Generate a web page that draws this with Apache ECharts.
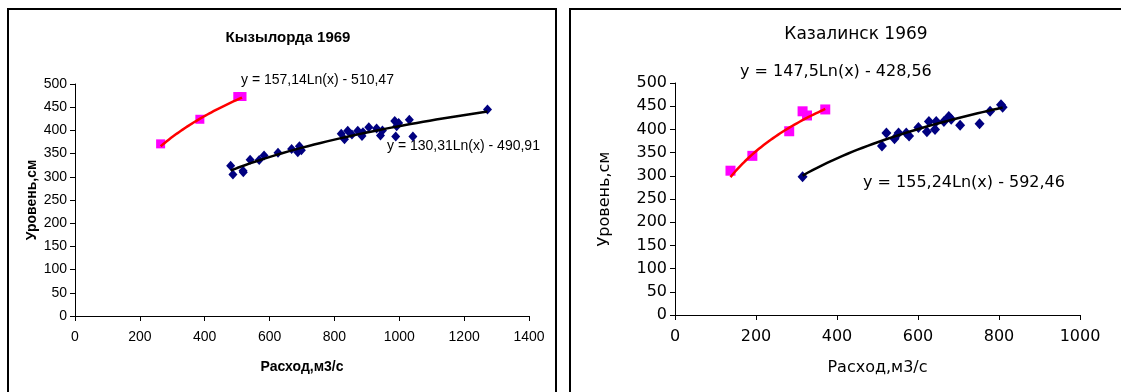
<!DOCTYPE html>
<html>
<head>
<meta charset="utf-8">
<script src="https://cdn.jsdelivr.net/npm/echarts@6/dist/echarts.min.js"></script>
<style>
  html, body { margin: 0; padding: 0; background: #fff; }
  #chart { width: 1121px; height: 392px; }
</style>
</head>
<body>
<div id="chart"></div>
<script>
// Кызылорда 1969 — расход (м3/с) и уровень (см)
const kzPinkX = [264, 385, 502, 515];
const kzPinkY = [371, 424, 473, 473];
const kzBlueX = [480, 487, 518, 519, 540, 568, 583, 626, 668, 687, 692, 698, 821, 831, 841,
                 854, 872, 885, 888, 906, 930, 942, 948, 986, 989, 992, 998, 1031, 1042, 1272];
const kzBlueY = [324, 305, 313, 310, 337, 336, 346, 352, 360, 353, 366, 357, 393, 381, 399,
                 391, 399, 388, 396, 407, 404, 389, 400, 420, 387, 409, 416, 423, 387, 445];
// логарифмические тренды: y = a·Ln(x) + b
const kzTrendPink = [157.14, -510.47];
const kzTrendBlue = [130.31, -490.91];

// Казалинск 1969
const kaPinkX = [137, 191, 282, 315, 326, 371];
const kaPinkY = [311, 343, 396, 439, 430, 443];
const kaBlueX = [315, 511, 522, 542, 552, 571, 578, 601, 622, 627, 642, 645, 664, 676, 682,
                 704, 752, 778, 805, 809];
const kaBlueY = [298, 364, 392, 380, 392, 392, 386, 404, 395, 417, 400, 417, 417, 428, 422,
                 409, 412, 439, 453, 448];
const kaTrendPink = [147.5, -428.56];
const kaTrendBlue = [155.24, -592.46];

const titles = ['Кызылорда 1969', 'Казалинск 1969'];
const xName = 'Расход,м3/с';
const yName = 'Уровень,см';

function pairs(xs, ys) { return xs.map((x, i) => [x, ys[i]]); }

// кривая тренда по уравнению в пределах диапазона данных
function trend(coef, xs) {
  const lo = Math.min(...xs), hi = Math.max(...xs);
  const pts = [];
  const n = 40;
  for (let i = 0; i <= n; i++) {
    const x = lo + (hi - lo) * i / n;
    pts.push([x, coef[0] * Math.log(x) + coef[1]]);
  }
  return pts;
}

function eqText(coef) {
  const f = v => String(Math.abs(v)).replace('.', ',');
  return 'y = ' + f(coef[0]) + 'Ln(x) ' + (coef[1] < 0 ? '- ' : '+ ') + f(coef[1]);
}

const narrow = "'Liberation Sans Narrow', 'Liberation Sans', Arial, sans-serif";
const wide = "'DejaVu Sans', Verdana, sans-serif";
const plain = v => String(v);

function axisBase(font, size, bold) {
  return {
    axisLine: { show: true, lineStyle: { color: '#000', width: 1 } },
    axisTick: { show: true, inside: false, length: 5, lineStyle: { color: '#000' } },
    splitLine: { show: false },
    nameLocation: 'middle',
    nameTextStyle: { color: '#000', fontFamily: font, fontSize: size, fontWeight: bold ? 'bold' : 'normal' }
  };
}

const chart = echarts.init(document.getElementById('chart'), null, { renderer: 'canvas' });

const option = {
  animation: false,
  backgroundColor: '#fff',
  title: [
    { text: titles[0], left: 283, top: 25, textAlign: 'center',
      textStyle: { fontFamily: narrow, fontSize: 15, fontWeight: 'bold', color: '#000' } },
    { text: titles[1], left: 851, top: 21, textAlign: 'center',
      textStyle: { fontFamily: wide, fontSize: 17, fontWeight: 'normal', color: '#000' } }
  ],
  grid: [
    { left: 75, top: 84, width: 454, height: 232 },
    { left: 675, top: 83, width: 405, height: 232 }
  ],
  xAxis: [
    Object.assign(axisBase(narrow, 14, true), {
      gridIndex: 0, type: 'value', min: 0, max: 1400, interval: 200,
      name: xName, nameGap: 44,
      axisLabel: { color: '#000', fontFamily: narrow, fontSize: 14, margin: 14, formatter: plain }
    }),
    Object.assign(axisBase(wide, 16, false), {
      gridIndex: 1, type: 'value', min: 0, max: 1000, interval: 200,
      name: xName, nameGap: 45,
      axisLabel: { color: '#000', fontFamily: wide, fontSize: 16, margin: 14, formatter: plain }
    })
  ],
  yAxis: [
    Object.assign(axisBase(narrow, 14, true), {
      gridIndex: 0, type: 'value', min: 0, max: 500, interval: 50,
      name: yName, nameGap: 36,
      axisLabel: { color: '#000', fontFamily: narrow, fontSize: 14, margin: 8, formatter: plain }
    }),
    Object.assign(axisBase(wide, 16, false), {
      gridIndex: 1, type: 'value', min: 0, max: 500, interval: 50,
      name: yName, nameGap: 62,
      axisLabel: { color: '#000', fontFamily: wide, fontSize: 16, margin: 8, formatter: plain }
    })
  ],
  series: [
    { type: 'line', xAxisIndex: 0, yAxisIndex: 0, data: trend(kzTrendPink, kzPinkX),
      showSymbol: false, smooth: false, lineStyle: { color: '#ff0000', width: 2.5 }, z: 3 },
    { type: 'line', xAxisIndex: 0, yAxisIndex: 0, data: trend(kzTrendBlue, kzBlueX),
      showSymbol: false, smooth: false, lineStyle: { color: '#000', width: 2.5 }, z: 3 },
    { type: 'scatter', xAxisIndex: 0, yAxisIndex: 0, data: pairs(kzPinkX, kzPinkY),
      symbol: 'rect', symbolSize: 9, itemStyle: { color: '#ff00ff', opacity: 1 }, z: 2 },
    { type: 'scatter', xAxisIndex: 0, yAxisIndex: 0, data: pairs(kzBlueX, kzBlueY),
      symbol: 'diamond', symbolSize: [9, 10], itemStyle: { color: '#000080', opacity: 1 }, z: 2 },

    { type: 'line', xAxisIndex: 1, yAxisIndex: 1, data: trend(kaTrendPink, kaPinkX),
      showSymbol: false, smooth: false, lineStyle: { color: '#ff0000', width: 2.5 }, z: 3 },
    { type: 'line', xAxisIndex: 1, yAxisIndex: 1, data: trend(kaTrendBlue, kaBlueX),
      showSymbol: false, smooth: false, lineStyle: { color: '#000', width: 2.5 }, z: 3 },
    { type: 'scatter', xAxisIndex: 1, yAxisIndex: 1, data: pairs(kaPinkX, kaPinkY),
      symbol: 'rect', symbolSize: 10, itemStyle: { color: '#ff00ff', opacity: 1 }, z: 2 },
    { type: 'scatter', xAxisIndex: 1, yAxisIndex: 1, data: pairs(kaBlueX, kaBlueY),
      symbol: 'diamond', symbolSize: [10, 11], itemStyle: { color: '#000080', opacity: 1 }, z: 2 }
  ],
  graphic: [
    // рамки диаграмм
    { type: 'rect', shape: { x: 8, y: 9, width: 548, height: 420 },
      style: { fill: null, stroke: '#000', lineWidth: 2 }, silent: true },
    { type: 'rect', shape: { x: 570, y: 9, width: 600, height: 420 },
      style: { fill: null, stroke: '#000', lineWidth: 2 }, silent: true },
    // уравнения трендов
    { type: 'text', x: 241, y: 80, style: { text: eqText(kzTrendPink), fill: '#000',
      font: '14px ' + narrow, verticalAlign: 'middle' } },
    { type: 'text', x: 387, y: 146, style: { text: eqText(kzTrendBlue), fill: '#000',
      font: '14px ' + narrow, verticalAlign: 'middle' } },
    { type: 'text', x: 740, y: 72, style: { text: eqText(kaTrendPink), fill: '#000',
      font: '16px ' + wide, verticalAlign: 'middle' } },
    { type: 'text', x: 863, y: 183, style: { text: eqText(kaTrendBlue), fill: '#000',
      font: '16px ' + wide, verticalAlign: 'middle' } }
  ]
};

chart.setOption(option);
</script>
</body>
</html>
